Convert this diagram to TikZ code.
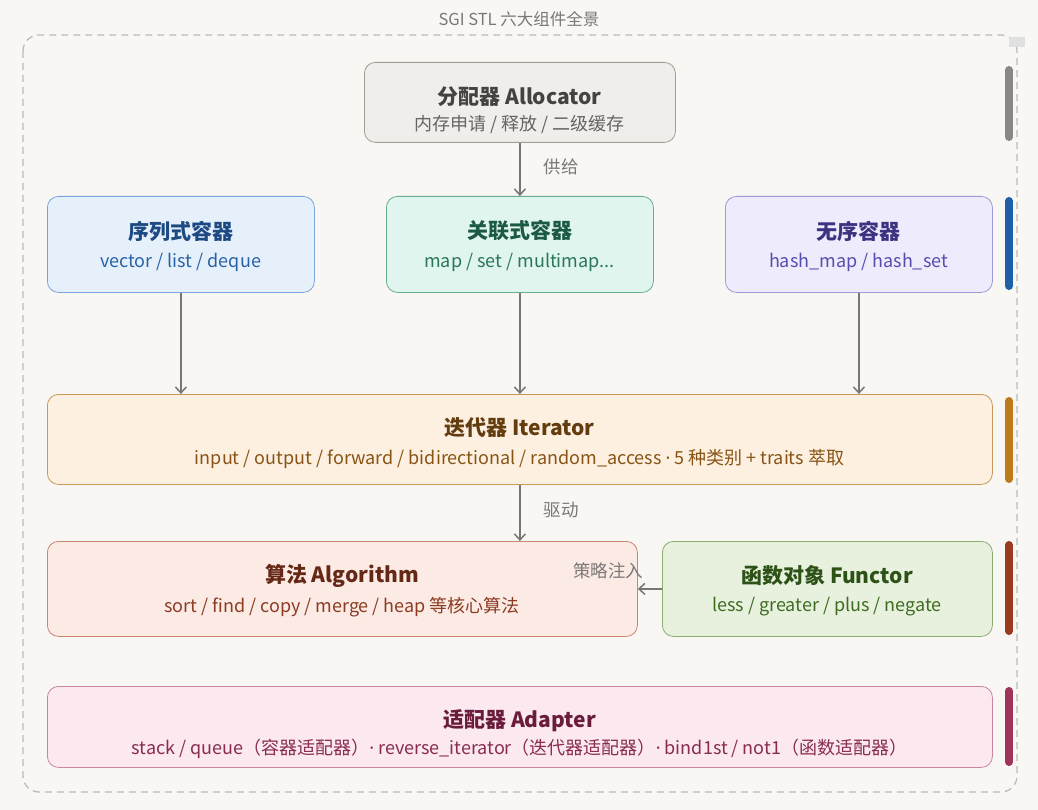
\documentclass[tikz,border=0pt]{standalone}
\usepackage{fontspec}
\setmainfont{Noto Sans CJK SC}
\newfontfamily\latf{Noto Sans}
\usetikzlibrary{arrows.meta}
\definecolor{bgc}{HTML}{F9F7F3}
\definecolor{frame}{HTML}{BDBBB8}
\definecolor{conn}{HTML}{777674}
\definecolor{lblc}{HTML}{7A7875}
% allocator
\definecolor{alF}{HTML}{EFEEEA}\definecolor{alD}{HTML}{A09E98}\definecolor{alT}{HTML}{444341}\definecolor{alS}{HTML}{666461}
% sequence
\definecolor{sqF}{HTML}{E6F0FB}\definecolor{sqD}{HTML}{78A6DA}\definecolor{sqT}{HTML}{1D4A82}\definecolor{sqS}{HTML}{2862A6}
% associative
\definecolor{asF}{HTML}{E0F5EE}\definecolor{asD}{HTML}{68AE90}\definecolor{asT}{HTML}{1C5A43}\definecolor{asS}{HTML}{2A7658}
% unordered
\definecolor{unF}{HTML}{EEECFC}\definecolor{unD}{HTML}{A097D8}\definecolor{unT}{HTML}{3B3280}\definecolor{unS}{HTML}{574DAE}
% iterator
\definecolor{itF}{HTML}{FDF0E0}\definecolor{itD}{HTML}{C8985A}\definecolor{itT}{HTML}{633C10}\definecolor{itS}{HTML}{875416}
% algorithm
\definecolor{agF}{HTML}{FCEAE5}\definecolor{agD}{HTML}{C88672}\definecolor{agT}{HTML}{662816}\definecolor{agS}{HTML}{8C3C22}
% functor
\definecolor{fnF}{HTML}{E7F1DD}\definecolor{fnD}{HTML}{8CAE70}\definecolor{fnT}{HTML}{2D5218}\definecolor{fnS}{HTML}{3E6C22}
% adapter
\definecolor{adF}{HTML}{FCE8EF}\definecolor{adD}{HTML}{C886A0}\definecolor{adT}{HTML}{6A1C3C}\definecolor{adS}{HTML}{882C50}
% bars
\definecolor{bGray}{HTML}{8A8884}\definecolor{bBlue}{HTML}{1E5FA8}\definecolor{bOr}{HTML}{C07A1E}\definecolor{bRed}{HTML}{9A3A1E}\definecolor{bMag}{HTML}{A0345A}
\tikzset{
  compbox/.style={draw, rounded corners=11pt, line width=0.8pt, anchor=north west, inner sep=0pt},
  ttl/.style={font=\fontsize{21}{24}\selectfont\bfseries, inner sep=0pt},
  sub/.style={font=\fontsize{18}{21}\selectfont, inner sep=0pt},
  arr/.style={draw=conn, line width=1.5pt, -{Straight Barb[length=6pt,width=11pt,line width=1.5pt]}},
  elbl/.style={text=lblc, font=\fontsize{17.5}{20}\selectfont, inner sep=0pt},
  sidebar/.style={line width=8pt, line cap=round},
}
\newcommand{\cbox}[7]{%
  \node[compbox, fill=#6, draw=#7, minimum width=#4-#2, minimum height=#5-#3] (#1) at (#2,#3) {};}
\newcommand{\mdot}{{\latf ·}}
\begin{document}
\begin{tikzpicture}[x=1pt,y=-1pt]
\useasboundingbox (0,0) rectangle (1038,810);
\fill[bgc] (0,0) rectangle (1038,810);
% outer frame
\draw[frame, line width=1.3pt, dash pattern=on 7pt off 5pt, rounded corners=16pt] (23,35) rectangle (1017,792);
\node[text=lblc, font=\fontsize{16.5}{19}\selectfont, inner sep=0pt] (title) at (519,19) {SGI STL 六大组件全景};
\fill[black!12] (1009,37) rectangle (1025,47);

% boxes
\cbox{alloc}{364}{62}{675}{142}{alF}{alD}
\cbox{seq}{47}{196}{314}{292}{sqF}{sqD}
\cbox{assoc}{386}{196}{653}{292}{asF}{asD}
\cbox{unord}{725}{196}{992}{292}{unF}{unD}
\cbox{iter}{47}{394}{992}{484}{itF}{itD}
\cbox{algo}{47}{541}{637}{636}{agF}{agD}
\cbox{func}{662}{541}{992}{636}{fnF}{fnD}
\cbox{adapt}{47}{686}{992}{767}{adF}{adD}

% texts
\node[ttl, text=alT] (allocT) at (519.5,97) {分配器 Allocator};
\node[sub, text=alS] (allocS) at (519.5,125) {内存申请 / 释放 / 二级缓存};
\node[ttl, text=sqT] (seqT) at (180.5,231) {序列式容器};
\node[sub, text=sqS] (seqS) at (180.5,262) {vector / list / deque};
\node[ttl, text=asT] (assocT) at (519.5,231) {关联式容器};
\node[sub, text=asS] (assocS) at (519.5,262) {map / set / multimap...};
\node[ttl, text=unT] (unordT) at (858.5,231) {无序容器};
\node[sub, text=unS] (unordS) at (858.5,262) {hash\_map / hash\_set};
\node[ttl, text=itT] (iterT) at (519.5,428) {迭代器 Iterator};
\node[sub, text=itS] (iterS) at (519.5,459) {input / output / forward / bidirectional / random\_access \mdot{} 5 种类别 + traits 萃取};
\node[ttl, text=agT] (algoT) at (342,576) {算法 Algorithm};
\node[sub, text=agS] (algoS) at (342,607) {sort / find / copy / merge / heap 等核心算法};
\node[ttl, text=fnT] (funcT) at (827,576) {函数对象 Functor};
\node[sub, text=fnS] (funcS) at (827,607) {less / greater / plus / negate};
\node[ttl, text=adT] (adaptT) at (519.5,721) {适配器 Adapter};
\node[sub, text=adS] (adaptS) at (519.5,749) {stack / queue（容器适配器）\mdot{} reverse\_iterator（迭代器适配器）\mdot{} bind1st / not1（函数适配器）};

% connectors
\draw[arr] (alloc.south) -- (assoc.north);
\node[elbl] (lblSupply) at (561,167) {供给};
\draw[arr] (seq.south) -- (seq.south |- iter.north);
\draw[arr] (assoc.south) -- (assoc.south |- iter.north);
\draw[arr] (unord.south) -- (unord.south |- iter.north);
\draw[arr] (iter.south) -- (iter.south |- algo.north);
\node[elbl] (lblDrive) at (561,510) {驱动};
\draw[arr] (func.west) -- (func.west -| algo.east);
\node[elbl] (lblInject) at (608,571) {策略注入};

% side bars
\draw[sidebar, bGray] (1009,70) -- (1009,137);
\draw[sidebar, bBlue] (1009,201) -- (1009,286);
\draw[sidebar, bOr] (1009,401) -- (1009,479);
\draw[sidebar, bRed] (1009,545) -- (1009,631);
\draw[sidebar, bMag] (1009,691) -- (1009,762);
\end{tikzpicture}
\end{document}
